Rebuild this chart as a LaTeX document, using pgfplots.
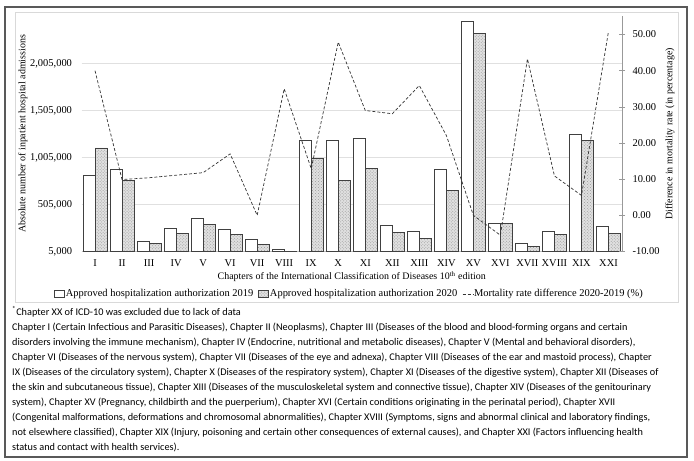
\documentclass[border=0pt]{standalone}
\usepackage{pgfplots}
\pgfplotsset{compat=1.18}
\usepackage{pgfplotstable}
\usepackage{fontspec}
\setmainfont{Liberation Serif}
\newfontfamily\notefont{Carlito}
\usetikzlibrary{patterns}

\pgfplotstableread{
idx y2019 y2020 mort
0 815000 1106000 40.0
1 882000 761000 9.9
2 108000 87000 10.4
3 247000 194000 11.1
4 353000 296000 11.8
5 236000 189000 17.0
6 130000 76000 0.0
7 23000 10000 35.0
8 1188000 999000 12.9
9 1190000 761000 47.9
10 1212000 886000 29.0
11 282000 204000 28.1
12 218000 147000 35.9
13 875000 652000 22.1
14 2456000 2325000 0.0
15 307000 307000 -5.5
16 87000 58000 43.3
17 218000 183000 10.9
18 1248000 1188000 5.5
19 271000 194000 50.9
}\datatable

\pgfplotsset{
  common/.style={scale only axis, width=540.5bp, height=235bp,
    at={(81.5bp,209.5bp)}, anchor=south west, xmin=-0.5, xmax=19.5,
    /pgf/number format/assume math mode=true,
    tick label style={font=\fontsize{10.5}{12}\selectfont},
    label style={font=\fontsize{10.5}{12}\selectfont}},
  boxlegend/.style={legend image code/.code={\draw[##1] (0bp,-3.5bp) rectangle (10bp,3.5bp);}},
  dashlegend/.style={legend image code/.code={\draw[##1] (0bp,0bp) -- (10bp,0bp);}},
}

\begin{document}
\begin{tikzpicture}[x=1bp,y=1bp]
\useasboundingbox (0,0) rectangle (694,461);
\fill[white] (0,0) rectangle (694,461);
\draw[black!15, line width=0.6bp] (15,159) rectangle (678,448.3);
\draw[black!65, line width=1.5bp] (5,4) rectangle (687,454);

\begin{axis}[common, ybar=0pt, bar width=12bp,
  ymin=5000, ymax=2505000, ytick={5000,505000,1005000,1505000,2005000},
  scaled y ticks=false,
  yticklabel style={xshift=-6bp, /pgf/number format/.cd, fixed, 1000 sep={,}},
  ymajorgrids, grid style={black!12, line width=0.6bp},
  axis x line*=bottom, axis y line*=left,
  x axis line style={draw=black!25, -}, y axis line style={draw=none},
  xtick={0,...,19},
  xticklabels={I,II,III,IV,V,VI,VII,VIII,IX,X,XI,XII,XIII,XIV,XV,XVI,XVII,XVIII,XIX,XXI},
  xticklabel style={inner sep=0pt, anchor=base, yshift=-15.5bp},
  major tick length=0pt,
  xlabel={Chapters of the International Classification of Diseases 10\textsuperscript{th} edition},
  every axis x label/.style={at={(axis description cs:0.5,0)}, anchor=base, yshift=-28.5bp},
  ylabel={Absolute number of inpatient hospital admissions},
  every axis y label/.style={at={(axis description cs:-0.1082,0.5)}, rotate=90, anchor=center},
  legend style={at={(0.495,-0.181)}, anchor=center, draw=none, fill=none,
    font=\fontsize{10.5}{12}\selectfont, inner sep=0pt,
    nodes={inner sep=1bp},
    /tikz/every even column/.append style={column sep=4bp}},
  legend columns=3, legend cell align=left,
]
\addplot[draw=black!75, fill=white, line width=0.7bp, boxlegend] table[x=idx,y=y2019] \datatable;
\addplot[draw=black!75, fill=black!12, line width=0.7bp,
  postaction={pattern=crosshatch dots, pattern color=black!40}, boxlegend] table[x=idx,y=y2020] \datatable;
\addlegendimage{black!80, densely dashed, line width=0.7bp, dashlegend}
\legend{Approved hospitalization authorization 2019, Approved hospitalization authorization 2020, Mortality rate difference 2020-2019 (\%)}
\end{axis}

\begin{axis}[common, ymin=-10, ymax=55, ytick={-10,0,...,50},
  axis y line*=right, axis x line=none, xtick=\empty,
  y axis line style={draw=black!40, -}, ytick style={draw=black!40, line width=0.6bp},
  major tick length=6bp, tick align=center,
  yticklabel style={xshift=4bp, /pgf/number format/.cd, fixed, fixed zerofill, precision=2},
  ylabel={Difference in mortality rate (in percentage)},
  every axis y label/.style={at={(axis description cs:1.0888,0.5)}, rotate=90, anchor=center},
]
\addplot[black!80, densely dashed, line width=0.7bp, mark=none] table[x=idx,y=mort] \datatable;
\end{axis}

\begin{scope}[every node/.style={anchor=base west, inner sep=0pt, font=\notefont\fontsize{10.3}{12}\selectfont}]
\node at (12,145.5) {\textsuperscript{*}Chapter XX of ICD-10 was excluded due to lack of data};
\node at (12,130.5) {Chapter I (Certain Infectious and Parasitic Diseases), Chapter II (Neoplasms), Chapter III (Diseases of the blood and blood-forming organs and certain};
\node at (12,115.5) {disorders involving the immune mechanism), Chapter IV (Endocrine, nutritional and metabolic diseases), Chapter V (Mental and behavioral disorders),};
\node at (12,100.5) {Chapter VI (Diseases of the nervous system), Chapter VII (Diseases of the eye and adnexa), Chapter VIII (Diseases of the ear and mastoid process), Chapter};
\node at (12,85.5) {IX (Diseases of the circulatory system), Chapter X (Diseases of the respiratory system), Chapter XI (Diseases of the digestive system), Chapter XII (Diseases of};
\node at (12,70.5) {the skin and subcutaneous tissue), Chapter XIII (Diseases of the musculoskeletal system and connective tissue), Chapter XIV (Diseases of the genitourinary};
\node at (12,55.5) {system), Chapter XV (Pregnancy, childbirth and the puerperium), Chapter XVI (Certain conditions originating in the perinatal period), Chapter XVII};
\node at (12,40.5) {(Congenital malformations, deformations and chromosomal abnormalities), Chapter XVIII (Symptoms, signs and abnormal clinical and laboratory findings,};
\node at (12,25.5) {not elsewhere classified), Chapter XIX (Injury, poisoning and certain other consequences of external causes), and Chapter XXI (Factors influencing health};
\node at (12,10.5) {status and contact with health services).};
\end{scope}
\end{tikzpicture}
\end{document}
